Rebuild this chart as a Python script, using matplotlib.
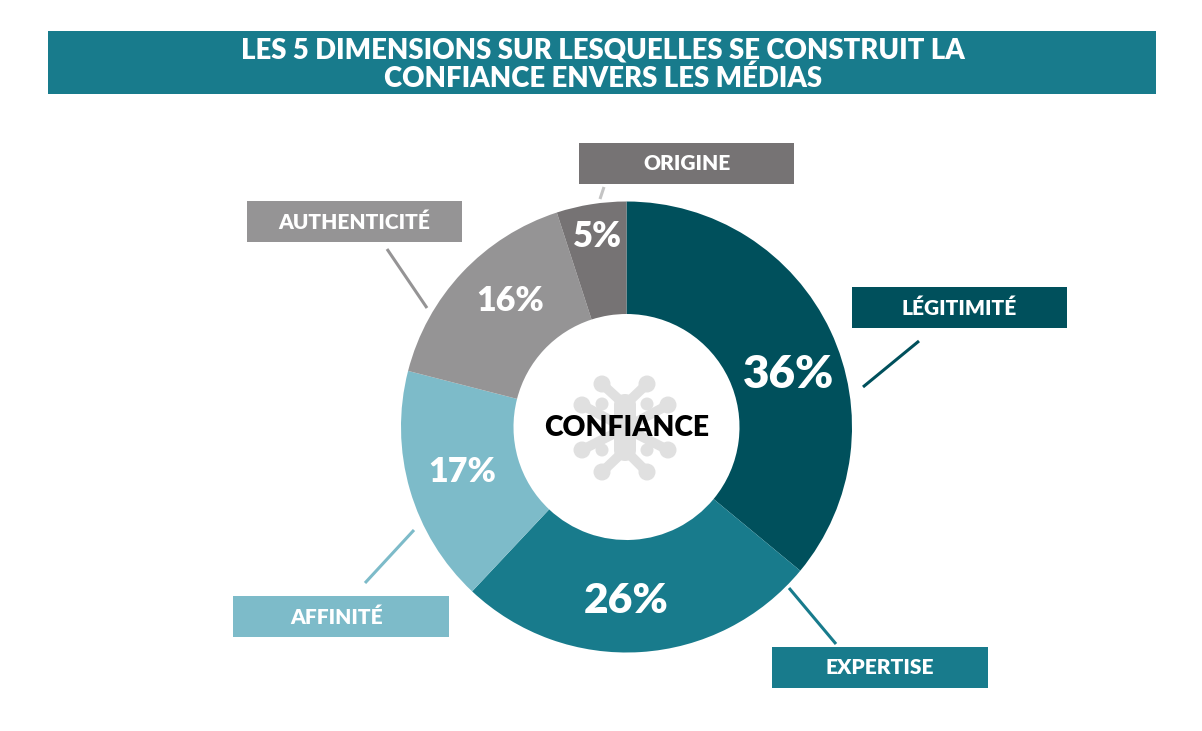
import matplotlib
matplotlib.use("Agg")
import matplotlib.pyplot as plt
from matplotlib.patches import Rectangle, Circle

W, H = 1202, 731
title_lines = ["LES 5 DIMENSIONS SUR LESQUELLES SE CONSTRUIT LA", "CONFIANCE ENVERS LES MÉDIAS"]
categories = ["LÉGITIMITÉ", "EXPERTISE", "AFFINITÉ", "AUTHENTICITÉ", "ORIGINE"]
values = [36, 26, 17, 16, 5]
colors = ["#00505c", "#187b8c", "#7dbbc9", "#959495", "#767374"]
center_label = "CONFIANCE"

plt.rcParams['font.family'] = ['Lato', 'DejaVu Sans']
fig = plt.figure(figsize=(W/100, H/100), dpi=100, facecolor='white')
bg = fig.add_axes([0, 0, 1, 1])
bg.set_xlim(0, W); bg.set_ylim(H, 0); bg.axis('off')

bg.add_patch(Rectangle((48, 31), 1108, 63, color="#187b8c", lw=0))
for y, line in zip((50, 78.5), title_lines):
    bg.text(603, y, line, color='white', fontsize=19.8, fontweight='heavy', ha='center', va='center')

# donut
cx, cy, R = 626.5, 427, 225.5
ax = fig.add_axes([(cx-R)/W, 1-(cy+R)/H, 2*R/W, 2*R/H])
ax.pie(values, colors=colors, startangle=90, counterclock=False, radius=1,
       wedgeprops=dict(width=1-113/225.5, linewidth=0))
ax.set_xlim(-1, 1); ax.set_ylim(-1, 1)

overlay = fig.add_axes([0, 0, 1, 1]); overlay.set_xlim(0, W); overlay.set_ylim(H, 0); overlay.axis('off')
overlay.patch.set_alpha(0)

# pale emblem behind the centre label
emblem = "#e0e0e0"
hub = (625, 428)
top_blob, low_blob = (625, 405), (625, 450)
arm_pairs = [(top_blob, (602, 384)), (top_blob, (647, 384)), (low_blob, (602, 472)), (low_blob, (647, 472)),
             (hub, (582, 405)), (hub, (668, 405)), (hub, (582, 450)), (hub, (668, 450))]
for o, (x, y) in arm_pairs:
    overlay.plot([o[0], x], [o[1], y], color=emblem, lw=7, zorder=1, solid_capstyle='round')
    overlay.add_patch(Circle((x, y), 8.5, color=emblem, lw=0, zorder=1))
for x, y in [(602, 404), (647, 404), (602, 450), (647, 450)]:
    overlay.add_patch(Circle((x, y), 6.5, color=emblem, lw=0, zorder=1))
for x, y in [top_blob, low_blob]:
    overlay.add_patch(Circle((x, y), 11, color=emblem, lw=0, zorder=1))
overlay.add_patch(Rectangle((614, 405), 22, 45, color=emblem, lw=0, zorder=1))

pct_pos = [(788.5, 375, 33), (626, 601, 30.5), (462, 472.5, 24.5), (510, 301, 24.5), (597, 236.5, 25)]
for v, (x, y, s) in zip(values, pct_pos):
    overlay.text(x, y, f"{v}%", color='white', fontsize=s, fontweight='heavy', ha='center', va='center', zorder=5)

overlay.text(626.5, 428, center_label, color='black', fontsize=20.3, fontweight='heavy', ha='center', va='center', zorder=5)

boxes = [(852, 287, 215, 41), (772, 647, 216, 41), (233, 596, 216, 41), (247, 201, 215, 41), (579, 143, 215, 41)]
label_x = [959.5, 880, 337, 354.5, 686.5]
lines = [((863, 387), (919, 341)), ((789, 588), (836, 644)), ((414, 530), (365, 583)),
         ((427, 308), (387, 249)), ((600, 199), (604, 187))]
line_colors = colors[:3] + ["#959495", "#c4c4c4"]
for (x, y, w, h), name, c, (p, q), lc, lx in zip(boxes, categories, colors, lines, line_colors, label_x):
    overlay.add_patch(Rectangle((x, y), w, h, color=c, lw=0))
    overlay.text(lx, y+h/2+0.5, name, color='white', fontsize=15, fontweight='heavy', ha='center', va='center')
    overlay.plot([p[0], q[0]], [p[1], q[1]], color=lc, lw=2.2, solid_capstyle='butt')

fig.savefig("out.png", dpi=100, facecolor='white')
